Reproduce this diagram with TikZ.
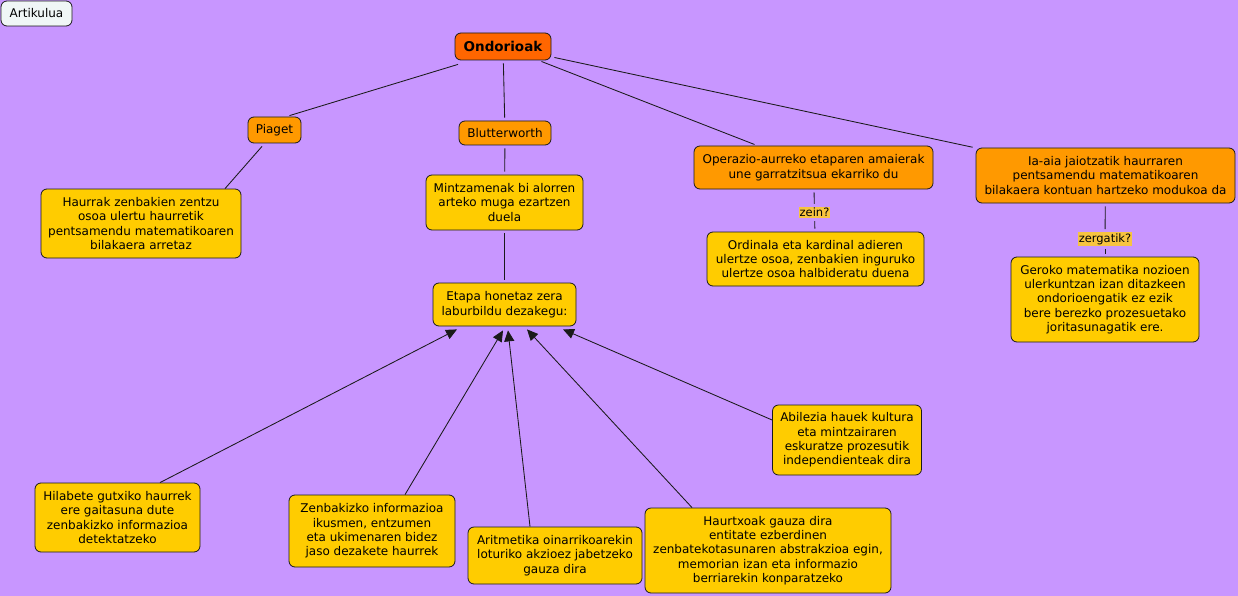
\documentclass[tikz,border=0pt]{standalone}
\usepackage{fontspec}
\setmainfont{DejaVu Sans}
\usetikzlibrary{arrows.meta}
\definecolor{bg}{HTML}{C896FF}
\definecolor{cyel}{HTML}{FFCC00}
\definecolor{corg}{HTML}{FF9900}
\definecolor{cred}{HTML}{FF6600}
\definecolor{cart}{HTML}{F0F6F6}
\definecolor{cline}{HTML}{1A1A1A}
\definecolor{clab}{HTML}{F7C440}
\tikzset{
  box/.style={draw=cline, line width=0.8pt, rounded corners=6pt, align=center, inner sep=0pt,
    font=\fontsize{12}{14.4}\selectfont, text=black},
  ybox/.style={box, fill=cyel},
  obox/.style={box, fill=corg},
  lab/.style={fill=clab, inner sep=1pt, font=\fontsize{11.5}{13}\selectfont},
  con/.style={draw=cline, line width=0.85pt, shorten <=3pt, shorten >=3pt},
  con0/.style={draw=cline, line width=0.85pt},
  arr/.style={con0, -{Triangle[length=11pt,width=10pt]}}
}
\begin{document}
\begin{tikzpicture}[x=1pt,y=-1pt]
\fill[bg] (0,0) rectangle (1238,596);
\useasboundingbox (0,0) rectangle (1238,596);

\node[box, fill=cart, minimum width=71pt, minimum height=25pt] (art) at (36.5,13.5) {Artikulua};
\node[box, fill=cred, minimum width=96pt, minimum height=27pt, font=\fontsize{13.5}{15}\selectfont\bfseries] (ond) at (503,46.5) {Ondorioak};
\node[obox, minimum width=53pt, minimum height=26pt] (pia) at (274.5,130) {Piaget};
\node[obox, minimum width=92pt, minimum height=24pt] (blu) at (505,133) {Blutterworth};
\node[obox, minimum width=239pt, minimum height=43pt] (ope) at (813.5,167.5) {Operazio-aurreko etaparen amaierak\\une garratzitsua ekarriko du};
\node[obox, minimum width=259pt, minimum height=55pt] (iaa) at (1105.5,175.5) {Ia-aia jaiotzatik haurraren\\pentsamendu matematikoaren\\bilakaera kontuan hartzeko modukoa da};
\node[ybox, minimum width=200pt, minimum height=69pt] (hau) at (141,223.5) {Haurrak zenbakien zentzu\\osoa ulertu haurretik\\pentsamendu matematikoaren\\bilakaera arretaz};
\node[ybox, minimum width=157pt, minimum height=55pt] (min) at (504.5,202.5) {Mintzamenak bi alorren\\arteko muga ezartzen\\duela};
\node[lab] (zein) at (814.5,212.5) {zein?};
\node[ybox, minimum width=217pt, minimum height=54pt] (ord) at (815.5,259) {Ordinala eta kardinal adieren\\ulertze osoa, zenbakien inguruko\\ulertze osoa halbideratu duena};
\node[lab] (zer) at (1105,239) {zergatik?};
\node[ybox, minimum width=188pt, minimum height=85pt] (ger) at (1105,299.5) {Geroko matematika nozioen\\ulerkuntzan izan ditazkeen\\ondorioengatik ez ezik\\bere berezko prozesuetako\\joritasunagatik ere.};
\node[ybox, minimum width=143pt, minimum height=43pt] (eta) at (504.5,304.5) {Etapa honetaz zera\\laburbildu dezakegu:};
\node[ybox, minimum width=149pt, minimum height=70pt] (abi) at (847,440) {Abilezia hauek kultura\\eta mintzairaren\\eskuratze prozesutik\\independienteak dira};
\node[ybox, minimum width=165pt, minimum height=69pt] (hil) at (117.5,517.5) {Hilabete gutxiko haurrek\\ere gaitasuna dute\\zenbakizko informazioa\\detektatzeko};
\node[ybox, minimum width=166pt, minimum height=72pt] (zen) at (372,531) {Zenbakizko informazioa\\ikusmen, entzumen\\eta ukimenaren bidez\\jaso dezakete haurrek};
\node[ybox, minimum width=174pt, minimum height=57pt] (ari) at (555,555.5) {Aritmetika oinarrikoarekin\\loturiko akzioez jabetzeko\\gauza dira};
\node[ybox, minimum width=246pt, minimum height=85pt] (hax) at (768,550.5) {Haurtxoak gauza dira\\entitate ezberdinen\\zenbatekotasunaren abstrakzioa egin,\\memorian izan eta informazio\\berriarekin konparatzeko};

\draw[con0] ([xshift=-45pt,yshift=-4pt]ond.south) -- ([xshift=15pt,yshift=1pt]pia.north);
\draw[con] (ond) -- (blu);
\draw[con] (ond) -- (ope);
\draw[con] (ond) -- (iaa);
\draw[con0] ([xshift=-12.5pt,yshift=-3pt]pia.south) -- ([xshift=84pt]hau.north);
\draw[con] (blu) -- (min);
\draw[con] (min) -- (eta);
\draw[con] (ope) -- (zein);
\draw[con] (zein) -- (ord);
\draw[con] (iaa) -- (zer);
\draw[con] (zer) -- (ger);
\draw[arr] ([xshift=42.5pt]hil.north) -- ([xshift=-47.5pt,yshift=-3pt]eta.south);
\draw[arr] ([xshift=33pt]zen.north) -- ([xshift=-1.5pt,yshift=-4pt]eta.south);
\draw[arr] ([xshift=-25pt]ari.north) -- ([xshift=3.5pt,yshift=-4pt]eta.south);
\draw[arr] ([xshift=-76pt]hax.north) -- ([xshift=22.5pt,yshift=-3pt]eta.south);
\draw[arr] ([yshift=20pt]abi.west) -- ([xshift=58.5pt,yshift=-3pt]eta.south);
\end{tikzpicture}
\end{document}
